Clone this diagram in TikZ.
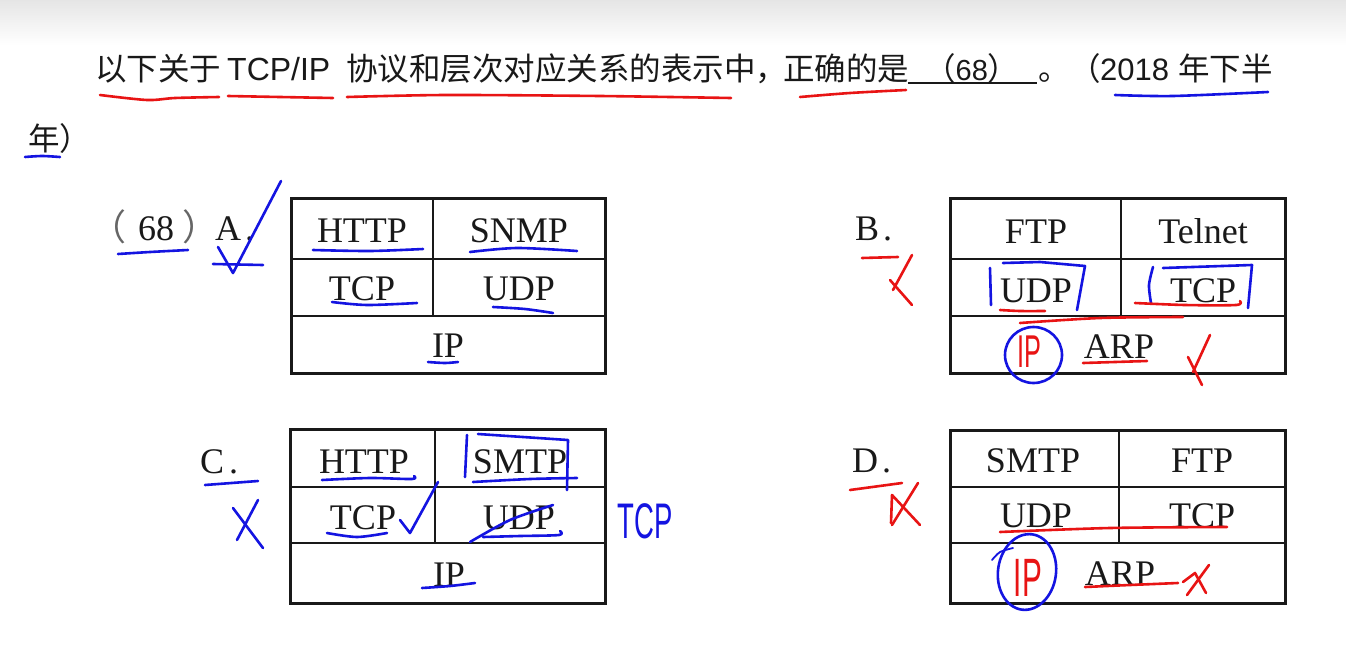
\documentclass[tikz,border=0pt]{standalone}
\usepackage{fontspec}
\setmainfont{Liberation Serif}
\newfontfamily\cjk{Noto Sans CJK SC}
\newfontfamily\arial{Liberation Sans}
\newfontfamily\hand[FakeStretch=0.55]{Liberation Sans}
\definecolor{penblue}{RGB}{20,20,225}
\definecolor{penred}{RGB}{232,20,20}
\definecolor{ink}{RGB}{25,25,25}
\begin{document}
\begin{tikzpicture}[x=1pt,y=-1pt,
  ttl/.style={anchor=base west,inner sep=0pt,text=ink,font=\cjk\fontsize{31.5}{36}\selectfont},
  cell/.style={anchor=base,inner sep=0pt,text=ink,font=\fontsize{36}{40}\selectfont},
  lbl/.style={anchor=base west,inner sep=0pt,text=ink,font=\fontsize{36}{40}\selectfont},
  outer/.style={line width=3pt,draw=ink},
  inner/.style={line width=2.2pt,draw=ink},
  bl/.style={draw=penblue,line width=2.6pt,line cap=round,line join=round},
  rd/.style={draw=penred,line width=2.6pt,line cap=round,line join=round},
  handtxt/.style={inner sep=0pt,anchor=center,font=\hand\fontsize{50}{50}\selectfont}]
\useasboundingbox (0,0) rectangle (1346,664);
\fill[white] (0,0) rectangle (1346,664);
\shade[top color=black!10,bottom color=white] (0,0) rectangle (1346,45);

% ---- title ----
\node[ttl] (t1) at (95,80) {以下关于};
\node[ttl,font=\arial\fontsize{32}{36}\selectfont] (t2) at (227,80) {TCP/IP};
\node[ttl] (t3) at (346,80) {协议和层次对应关系的表示中，};
\node[ttl] (t4) at (783,80) {正确的是};
\coordinate (blankL) at (908,83);
\coordinate (blankR) at (1037,83);
\draw[line width=2.4pt,draw=ink] (blankL) -- (blankR);
\node[ttl] (t5) at (924,80) {（{\arial\fontsize{29}{36}\selectfont 68}）};
\node[ttl] (t6) at (1038,80) {。（};
\node[ttl,font=\arial\fontsize{31}{36}\selectfont] (t7) at (1100,80) {2018};
\node[ttl] (t8) at (1178,80) {年下半};
\node[ttl] (t9) at (28,150) {年）};

\draw[rd] plot[smooth] coordinates {(100,95) (147,100) (175,98) (219,97)};
\draw[rd] plot[smooth] coordinates {(228,96) (280,97) (333,98)};
\draw[rd] plot[smooth] coordinates {(347,97) (446,95) (600,96) (731,98)};
\draw[rd] plot[smooth] coordinates {(800,97) (850,93) (906,90)};
\draw[bl] plot[smooth] coordinates {(1115,95) (1173,96) (1268,92)};
\draw[bl] plot[smooth] coordinates {(25,157) (42,156) (60,157)};

% ---- labels ----
\node[lbl] (la) at (90,240) {{\cjk\color{black!60}（}\kern12pt 68\kern8pt{\cjk\color{black!60}）}};
\node[lbl] (la2) at (215,240) {A\kern4pt.};
\node[lbl] (lb) at (855,240) {B\kern4pt.};
\node[lbl] (lc) at (200,473) {C\kern5pt.};
\node[lbl] (ld) at (852,472) {D\kern4pt.};

% ---- table A ----
\draw[outer] (291,198) rectangle (605,373);
\draw[inner] (291,259) -- (605,259) (291,316) -- (605,316) (433,198) -- (433,316);
\node[cell] (a1) at (362,242) {HTTP};
\node[cell] (a2) at (519,242) {SNMP};
\node[cell] (a3) at (362,300) {TCP};
\node[cell] (a4) at (519,300) {UDP};
\node[cell] (a5) at (448,357) {IP};

% ---- table B ----
\draw[outer] (950,198) rectangle (1285,373);
\draw[inner] (950,259) -- (1285,259) (950,316) -- (1285,316) (1121,198) -- (1121,316);
\node[cell] (b1) at (1036,243) {FTP};
\node[cell] (b2) at (1203,243) {Telnet};
\node[cell] (b3) at (1036,302) {UDP};
\node[cell] (b4) at (1203,302) {TCP};
\node[cell] (b5) at (1119,358) {ARP};

% ---- table C ----
\draw[outer] (290,429) rectangle (605,603);
\draw[inner] (290,487) -- (605,487) (290,543) -- (605,543) (435,429) -- (435,543);
\node[cell] (c1) at (364,473) {HTTP};
\node[cell] (c2) at (520,473) {SMTP};
\node[cell] (c3) at (363,529) {TCP};
\node[cell] (c4) at (519,529) {UDP};
\node[cell] (c5) at (449,586) {IP};

% ---- table D ----
\draw[outer] (950,430) rectangle (1285,603);
\draw[inner] (950,487) -- (1285,487) (950,543) -- (1285,543) (1119,430) -- (1119,543);
\node[cell] (d1) at (1033,472) {SMTP};
\node[cell] (d2) at (1202,472) {FTP};
\node[cell] (d3) at (1036,527) {UDP};
\node[cell] (d4) at (1202,527) {TCP};
\node[cell] (d5) at (1120,585) {ARP};

% ---- annotations A ----
\draw[bl] plot[smooth] coordinates {(118,254) (150,252) (188,250)};
\draw[bl] (218,247) -- (233,273) -- (281,181);
\draw[bl] (213,264) -- (263,265);
\draw[bl] plot[smooth] coordinates {(313,250) (370,251) (423,249)};
\draw[bl] plot[smooth] coordinates {(470,252) (517,248) (577,251)};
\draw[bl] plot[smooth] coordinates {(332,302) (367,305) (417,303)};
\draw[bl] plot[smooth] coordinates {(493,307) (525,309) (553,313)};
\draw[bl] plot[smooth] coordinates {(428,362) (445,363) (458,362)};

% ---- annotations B ----
\draw[rd] (862,258) -- (898,257);
\draw[rd] (912,255) -- (893,290);
\draw[rd] (890,280) -- (912,305);
\draw[bl] (990,268) -- (991,305);
\draw[bl] (1003,263) -- (1040,262) -- (1085,266) -- (1077,310);
\draw[rd] plot[smooth] coordinates {(1000,310) (1020,311) (1045,311)};
\draw[bl] plot[smooth] coordinates {(1153,267) (1149,285) (1151,303)};
\draw[bl] (1163,268) -- (1252,265) -- (1248,308);
\draw[rd] plot[smooth] coordinates {(1135,303) (1185,305) (1236,305) (1240,301)};
\draw[rd] plot[smooth] coordinates {(1020,323) (1100,318) (1183,317)};
\draw[bl] (1033.5,355) ellipse [x radius=28.5,y radius=28];
\node[handtxt,text=penred,font=\hand\fontsize{46}{46}\selectfont] (bip) at (1029,352) {IP};
\draw[rd] plot[smooth] coordinates {(1083,363) (1115,362) (1147,361)};
\draw[rd] (1210,335) -- (1193,372);
\draw[rd] (1188,357) -- (1202,385);

% ---- annotations C ----
\draw[bl] (205,485) -- (258,481);
\draw[bl] (258,500) -- (237,540);
\draw[bl] (233,508) -- (263,548);
\draw[bl] plot[smooth] coordinates {(322,480) (370,478) (412,479) (414,476)};
\draw[bl] (467,435) -- (465,477);
\draw[bl] (478,434) -- (568,440) -- (567,490);
\draw[bl] plot[smooth] coordinates {(473,482) (530,479) (577,478)};
\draw[bl] (400,520) -- (410,533) -- (438,482);
\draw[bl] plot[smooth] coordinates {(327,533) (357,537) (387,533)};
\draw[bl] plot[smooth] coordinates {(470,542) (510,520) (553,505)};
\draw[bl] plot[smooth] coordinates {(483,537) (520,536) (559,535) (560,531)};
\draw[bl] plot[smooth] coordinates {(422,588) (450,586) (475,583)};
\node[handtxt,text=penblue] (ctcp) at (645,521) {TCP};

% ---- annotations D ----
\draw[rd] (850,490) -- (902,483);
\draw[rd] (891,523) -- (892,495) -- (920,525);
\draw[rd] (918,483) -- (892,525);
\draw[rd] plot[smooth] coordinates {(1000,532) (1110,528) (1227,527)};
\draw[bl,rotate around={-8:(1027,572)}] (1027,572) ellipse [x radius=29,y radius=38];
\draw[bl,line width=1.8pt] plot[smooth] coordinates {(992,560) (1000,552) (1013,548)};
\node[handtxt,text=penred,font=\hand\fontsize{54}{54}\selectfont] (dip) at (1028,578) {IP};
\draw[rd] plot[smooth] coordinates {(1085,587) (1130,585) (1178,583)};
\draw[rd] (1183,582) -- (1195,573) -- (1206,593);
\draw[rd] (1209,565) -- (1187,595);
\end{tikzpicture}
\end{document}
